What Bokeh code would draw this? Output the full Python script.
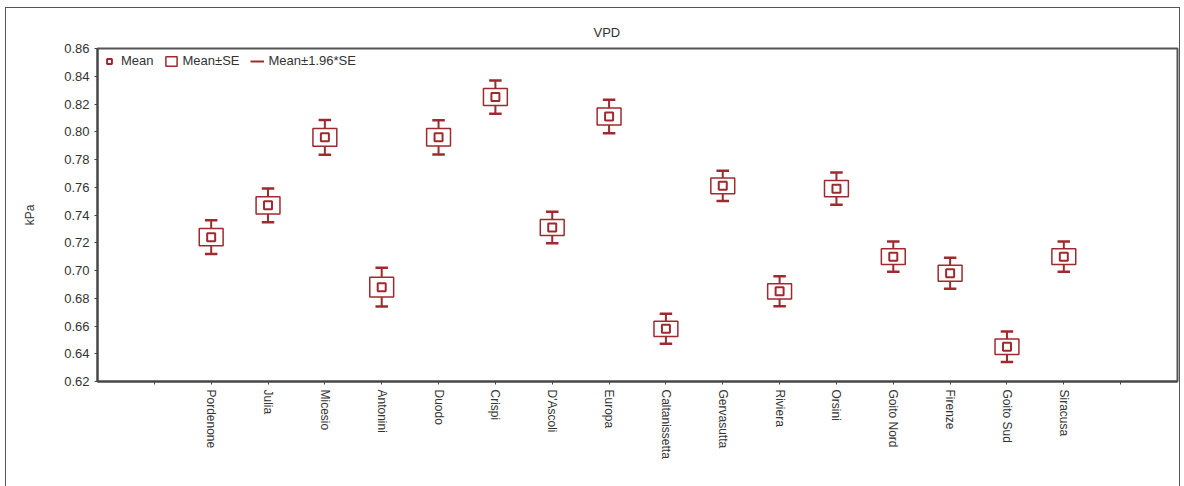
from bokeh.plotting import figure
from bokeh.models import (FixedTicker, Legend, LegendItem, ColumnDataSource, Range1d,
                          PrintfTickFormatter)
from bokeh.embed import file_html
from bokeh.resources import INLINE

sites = ["Pordenone", "Julia", "Micesio", "Antonini", "Duodo", "Crispi", "D'Ascoli",
         "Europa", "Caltanissetta", "Gervasutta", "Riviera", "Orsini", "Goito Nord",
         "Firenze", "Goito Sud", "Siracusa"]
mean = [0.724, 0.747, 0.796, 0.688, 0.796, 0.825, 0.731, 0.811, 0.658, 0.761,
        0.685, 0.759, 0.710, 0.698, 0.645, 0.710]
se = [0.0062, 0.0062, 0.0064, 0.0071, 0.0063, 0.0061, 0.0058, 0.0062, 0.0055, 0.0056,
      0.0055, 0.0059, 0.0056, 0.0057, 0.0056, 0.0056]
y_ticks = [0.62, 0.64, 0.66, 0.68, 0.70, 0.72, 0.74, 0.76, 0.78, 0.80, 0.82, 0.84, 0.86]

xs = list(range(1, len(sites) + 1))
src = ColumnDataSource(dict(
    x=xs, mean=mean,
    lo1=[m - s for m, s in zip(mean, se)], hi1=[m + s for m, s in zip(mean, se)],
    lo2=[m - 1.96 * s for m, s in zip(mean, se)], hi2=[m + 1.96 * s for m, s in zip(mean, se)],
    left=[x - 0.21 for x in xs], right=[x + 0.21 for x in xs],
    cl=[x - 0.11 for x in xs], cr=[x + 0.11 for x in xs],
))

RED = "#9e2a2f"
FONT = "Liberation Sans"
TXT = "#333333"

p = figure(width=1175, height=479, output_backend="svg", toolbar_location=None,
           x_range=Range1d(-1, 18), y_range=Range1d(0.62, 0.86),
           min_border_left=91, min_border_right=4, min_border_top=40, min_border_bottom=106,
           title="VPD")
p.styles = {"border": "1.5px solid #555555", "border-bottom": "none",
            "margin-left": "5px", "margin-top": "7px", "box-sizing": "border-box"}
p.title.align = "left"
p.title.offset = 496
p.title.vertical_align = "middle"
p.title.standoff = 16
p.title.text_font = FONT
p.title.text_font_size = "13px"
p.title.text_font_style = "normal"
p.title.text_color = TXT
p.grid.visible = False
p.outline_line_color = "#555555"
p.outline_line_width = 2

# axes
p.xaxis.ticker = FixedTicker(ticks=xs, minor_ticks=[0, 17])
p.xaxis.major_label_overrides = {i + 1: s for i, s in enumerate(sites)}
p.xaxis.major_label_orientation = "vertical"
p.yaxis.ticker = FixedTicker(ticks=y_ticks)
p.yaxis.formatter = PrintfTickFormatter(format="%.2f")
p.yaxis.axis_label = "kPa"
p.yaxis.axis_label_standoff = 24
for ax in [p.xaxis[0], p.yaxis[0]]:
    ax.axis_line_color = "#444444"
    ax.axis_line_width = 2
    ax.major_tick_line_color = "#444444"
    ax.major_tick_out = 3
    ax.major_tick_in = 0
    ax.minor_tick_line_color = "#444444"
    ax.minor_tick_out = 3
    ax.minor_tick_in = 0
    ax.major_label_text_font = FONT
    ax.major_label_text_color = TXT
    ax.major_label_text_font_size = "13px"
    ax.axis_label_text_font = FONT
    ax.axis_label_text_font_style = "normal"
    ax.axis_label_text_font_size = "12px"
    ax.axis_label_text_color = TXT
p.xaxis.major_label_text_font_size = "12px"

# whiskers
w = p.segment(x0="x", x1="x", y0="lo2", y1="hi2", source=src, line_color=RED, line_width=2)
p.segment(x0="cl", x1="cr", y0="lo2", y1="lo2", source=src, line_color=RED, line_width=2.5)
p.segment(x0="cl", x1="cr", y0="hi2", y1="hi2", source=src, line_color=RED, line_width=2.5)
# boxes
b = p.quad(left="left", right="right", bottom="lo1", top="hi1", source=src,
           fill_color="white", line_color=RED, line_width=1.5)
# means
m = p.scatter(x="x", y="mean", source=src, marker="square", size=8,
              fill_color="white", line_color=RED, line_width=2)

legend = Legend(items=[LegendItem(label="Mean", renderers=[m]),
                       LegendItem(label="Mean\u00b1SE", renderers=[b]),
                       LegendItem(label="Mean\u00b11.96*SE", renderers=[w])],
                orientation="horizontal", location="top_left",
                label_text_font=FONT, label_text_font_size="13px", label_text_color=TXT,
                border_line_color=None, background_fill_alpha=0,
                glyph_width=14, glyph_height=12, spacing=10, padding=2, margin=5,
                label_standoff=5)
p.add_layout(legend)

open("out.html", "w").write(file_html(p, INLINE))
